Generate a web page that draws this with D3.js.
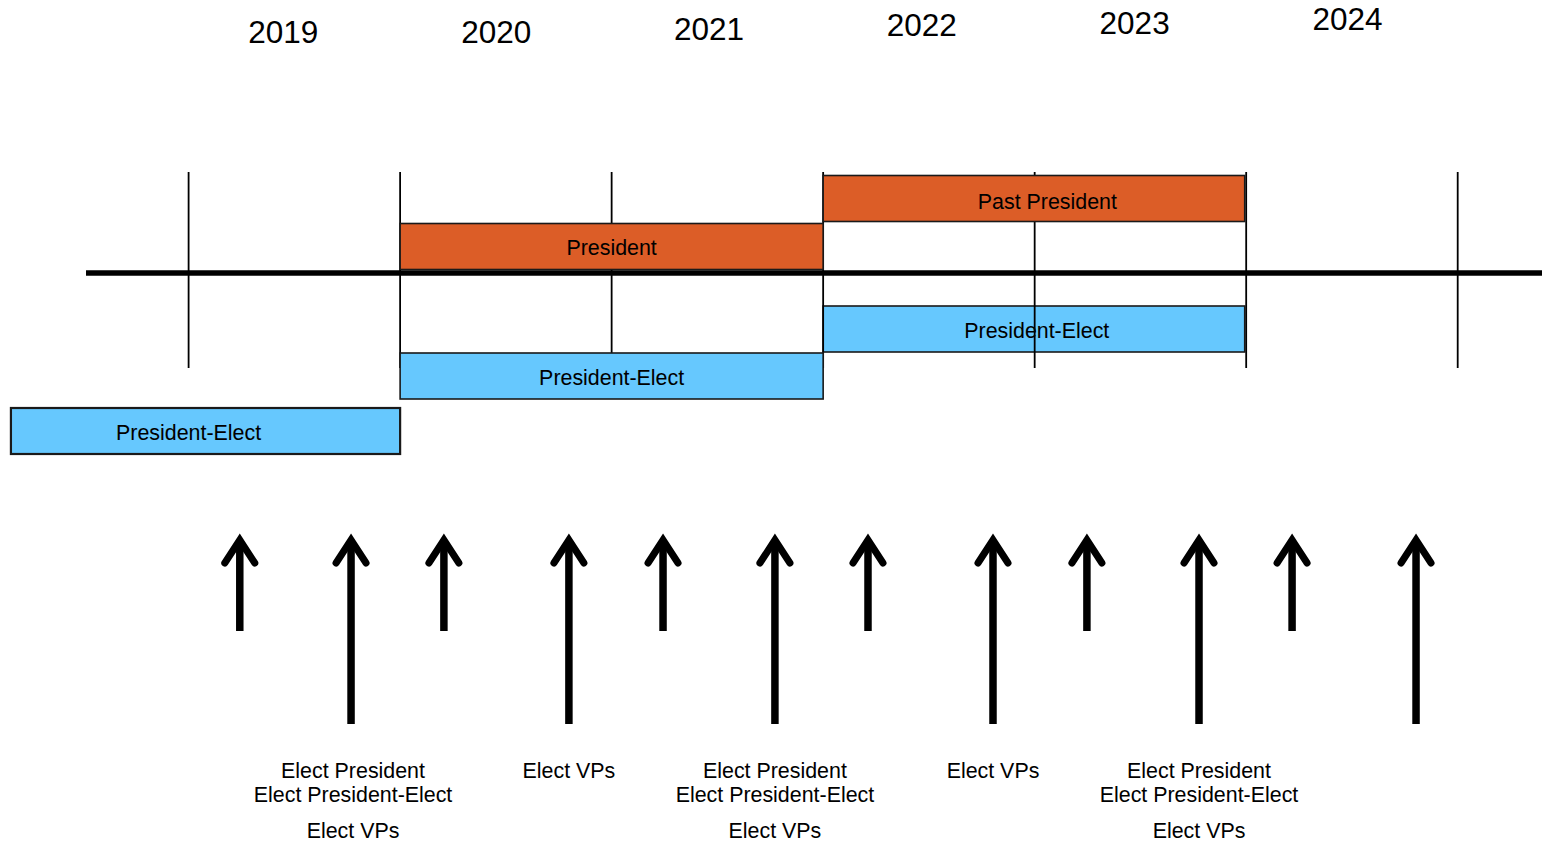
<!DOCTYPE html>
<html>
<head>
<meta charset="utf-8">
<script src="https://cdn.jsdelivr.net/npm/d3@7"></script>
<style>
  body { margin: 0; background: #fff; }
  svg { display: block; font-family: "Liberation Sans", Arial, sans-serif; }
</style>
</head>
<body>
<div id="chart"></div>
<script>
// timeline data
var yearTicks = [2019, 2020, 2021, 2022, 2023, 2024, 2025];
var yearLabels = ["2019", "2020", "2021", "2022", "2023", "2024"];

var barRoles = ["Past President", "President", "President-Elect", "President-Elect", "President-Elect"];
var barStart = [2022, 2020, 2022, 2020, 2018.16];
var barEnd = [2023.993, 2022, 2023.993, 2022, 2020];
var barLabelAt = [2023.06, 2021.0, 2023.01, 2021.0, 2019.0];

var shortArrowAt = [2019.242, 2020.207, 2021.243, 2022.212, 2023.247, 2024.217];
var longArrowAt = [2019.768, 2020.798, 2021.772, 2022.803, 2023.777, 2024.803];
var longArrowNotes = [
  [["Elect President", "Elect President-Elect"], ["Elect VPs"]],
  [["Elect VPs"]],
  [["Elect President", "Elect President-Elect"], ["Elect VPs"]],
  [["Elect VPs"]],
  [["Elect President", "Elect President-Elect"], ["Elect VPs"]],
  []
];

function init()
{
  var width = 1542, height = 843;
  var axisY = 273;
  var rowY = [175.5, 223.5, 306, 353, 408];   // top of each bar row
  var barH = 46;
  var orange = "#dc5d27", blue = "#66c8fe";

  var svg = d3.select("#chart")
    .append("svg")
    .attr("width", width)
    .attr("height", height);

  var xScale = d3.scaleLinear()
    .domain([2019, 2025])
    .range([188.6, 1457.7]);

  // year captions drift upward slightly to the right
  var yearBase = [43, 43, 39.5, 36, 34, 30];
  svg.selectAll(".year")
    .data(yearLabels)
    .enter()
    .append("text")
      .attr("class", "year")
      .attr("x", function(d, i) {return xScale(yearTicks[i] + 0.5) - 11 + i * 1.3;})
      .attr("y", function(d, i) {return yearBase[i];})
      .style("text-anchor", "middle")
      .style("font-size", "31.5px")
      .style("fill", "#000")
      .text(function(d) {return d;});

  var barIdx = d3.range(barRoles.length);

  function drawBars(sel)
  {
    var g = svg.selectAll(null)
      .data(sel)
      .enter()
      .append("g");

    g.append("rect")
      .attr("x", function(i) {return xScale(barStart[i]);})
      .attr("y", function(i) {return rowY[i];})
      .attr("width", function(i) {return xScale(barEnd[i]) - xScale(barStart[i]);})
      .attr("height", barH)
      .style("fill", function(i) {return barRoles[i] == "President-Elect" ? blue : orange;})
      .style("stroke", "#1a1a1a")
      .style("stroke-width", function(i) {return i == 4 ? 2.2 : 1.6;});

    g.append("text")
      .attr("x", function(i) {return xScale(barLabelAt[i]);})
      .attr("y", function(i) {return rowY[i] + barH / 2 + (i == 0 ? 10 : 8.5);})
      .style("text-anchor", "middle")
      .style("font-size", "21.4px")
      .style("fill", "#000")
      .text(function(i) {return barRoles[i];});
  }

  // the 2022 President-Elect bar sits beneath the tick lines
  drawBars(barIdx.filter(function(i) {return i == 2;}));

  svg.selectAll(".tick")
    .data(yearTicks)
    .enter()
    .append("line")
      .attr("class", "tick")
      .attr("x1", function(d) {return xScale(d);})
      .attr("x2", function(d) {return xScale(d);})
      .attr("y1", 172)
      .attr("y2", 368)
      .style("stroke", "#000")
      .style("stroke-width", 1.8);

  drawBars(barIdx.filter(function(i) {return i != 2;}));

  // main axis
  svg.append("line")
    .attr("x1", xScale(2018.515))
    .attr("x2", width)
    .attr("y1", axisY)
    .attr("y2", axisY)
    .style("stroke", "#000")
    .style("stroke-width", 5.5);

  // arrows
  var tipY = 540, shortEnd = 631, longEnd = 724;
  var headW = 15, headH = 23;

  function drawArrows(list, endY)
  {
    var g = svg.selectAll(null)
      .data(list)
      .enter()
      .append("g");

    g.append("line")
      .attr("x1", function(d) {return xScale(d);})
      .attr("x2", function(d) {return xScale(d);})
      .attr("y1", tipY)
      .attr("y2", endY)
      .style("stroke", "#000")
      .style("stroke-width", 7.5);

    g.append("path")
      .attr("d", function(d) {
        var x = xScale(d);
        return d3.line()([[x - headW, tipY + headH], [x, tipY], [x + headW, tipY + headH]]);
      })
      .style("fill", "none")
      .style("stroke", "#000")
      .style("stroke-width", 7)
      .style("stroke-linecap", "round")
      .style("stroke-linejoin", "miter");
  }

  drawArrows(shortArrowAt, shortEnd);
  drawArrows(longArrowAt, longEnd);

  // notes under the long arrows
  longArrowAt.forEach(function(d, i) {
    var y = 778;
    longArrowNotes[i].forEach(function(par, p) {
      if (p > 0) y += 12;
      par.forEach(function(line) {
        svg.append("text")
          .attr("x", xScale(d) + (i == 0 ? 2 : 0))
          .attr("y", y)
          .style("text-anchor", "middle")
          .style("font-size", "21.4px")
          .style("fill", "#000")
          .text(line);
        y += 24;
      });
    });
  });
}

window.onload = init;
</script>
</body>
</html>
